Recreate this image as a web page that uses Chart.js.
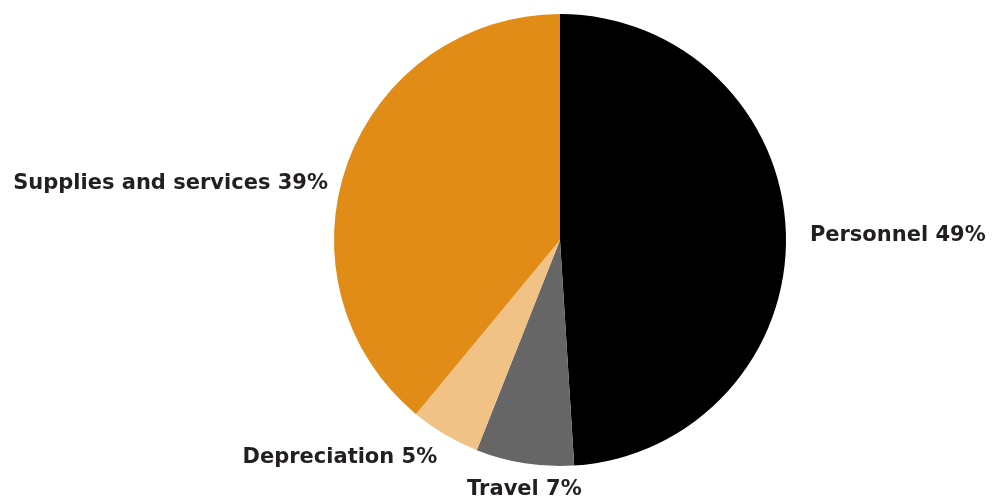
<!DOCTYPE html>
<html>
<head>
<meta charset="utf-8">
<script src="https://cdn.jsdelivr.net/npm/chart.js@4"></script>
<style>
  html, body { margin: 0; padding: 0; background: #fff; }
  #wrap { width: 993px; height: 504px; position: relative; }
</style>
</head>
<body>
<div id="wrap"><canvas id="c" width="993" height="504"></canvas></div>
<script>
// Expense breakdown, shares in percent
const categories = ['Personnel', 'Travel', 'Depreciation', 'Supplies and services'];
const shares = [49, 7, 5, 39];
const sliceColors = ['#000000', '#666666', '#f1c286', '#e28c18'];

// Label placement tweaks per slice, px
const labelNudgeX = [-3, 4, 6, 6];
const labelNudgeY = [3, 0, 0, 29];

const outerLabels = {
  id: 'outerLabels',
  afterDatasetsDraw(chart) {
    const ctx = chart.ctx;
    const meta = chart.getDatasetMeta(0);
    ctx.save();
    ctx.font = 'bold 21px "DejaVu Sans", sans-serif';
    ctx.fillStyle = '#231f20';
    ctx.textBaseline = 'middle';
    meta.data.forEach((arc, i) => {
      const p = arc.getProps(['x', 'y', 'startAngle', 'endAngle', 'outerRadius'], true);
      const mid = (p.startAngle + p.endAngle) / 2;
      const r = p.outerRadius + 27;
      const x = p.x + Math.cos(mid) * r + labelNudgeX[i];
      const y = p.y + Math.sin(mid) * r + labelNudgeY[i];
      const c = Math.cos(mid);
      ctx.textAlign = Math.abs(c) < 0.3 ? 'center' : (c > 0 ? 'left' : 'right');
      ctx.fillText(categories[i] + ' ' + shares[i] + '%', x, y);
    });
    ctx.restore();
  }
};

new Chart(document.getElementById('c'), {
  type: 'pie',
  data: {
    labels: categories,
    datasets: [{
      data: shares,
      backgroundColor: sliceColors,
      borderWidth: 0
    }]
  },
  options: {
    responsive: false,
    animation: false,
    layout: { padding: { top: 14, bottom: 38, left: 334, right: 207 } },
    plugins: {
      legend: { display: false },
      tooltip: { enabled: false }
    }
  },
  plugins: [outerLabels]
});
</script>
</body>
</html>
